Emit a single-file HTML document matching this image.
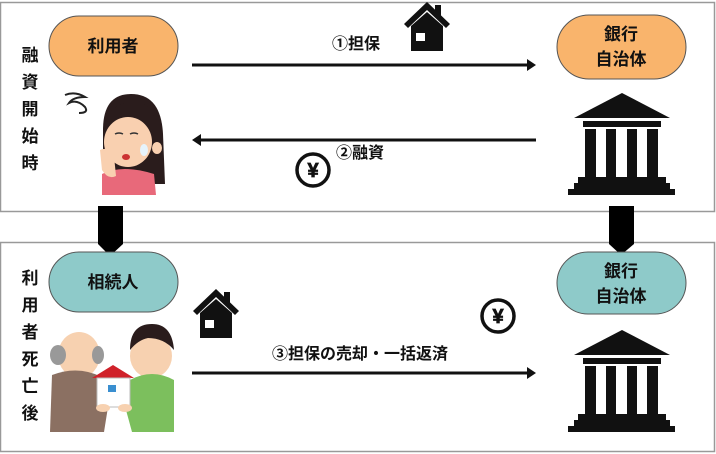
<!DOCTYPE html>
<html><head><meta charset="utf-8">
<style>
html,body{margin:0;padding:0;background:#fff;width:716px;height:454px;overflow:hidden}
svg text{font-family:"Liberation Sans","Noto Sans CJK JP",sans-serif;font-weight:bold;fill:#111}
</style></head><body>
<svg width="716" height="454" viewBox="0 0 716 454" xmlns="http://www.w3.org/2000/svg">
<defs>
<g id="house">
<path d="M0 22 L23 0 L46 22 L42 26 L23 8 L4 26 Z" fill="#111"/>
<rect x="31" y="3" width="6" height="12" fill="#111"/>
<path d="M7 24 L23 10 L39 24 L39 49 L7 49 Z" fill="#111"/>
<rect x="12" y="31" width="9" height="8" fill="#fff"/>
</g>
<g id="bank">
<path d="M48 0 L96 25 L0 25 Z" fill="#111"/>
<rect x="9" y="28" width="78" height="6" fill="#111"/>
<rect x="11" y="36" width="11" height="48" fill="#111"/>
<rect x="32" y="36" width="10" height="48" fill="#111"/>
<rect x="53" y="36" width="10" height="48" fill="#111"/>
<rect x="73" y="36" width="11" height="48" fill="#111"/>
<rect x="4" y="84" width="88" height="6" fill="#111"/>
<rect x="0" y="90" width="96" height="6" fill="#111"/>
<rect x="-6" y="96" width="107" height="6" fill="#111"/>
</g>
<g id="yen">
<circle cx="0" cy="0" r="16" fill="#fff" stroke="#111" stroke-width="3.5"/>
<text x="0" y="7" font-size="20" text-anchor="middle" stroke="#111" stroke-width="0.8">¥</text>
</g>
</defs>

<rect x="0.5" y="2.5" width="714" height="209" fill="#fff" stroke="#999" stroke-width="1.5"/>
<rect x="0.5" y="242.5" width="714" height="209" fill="#fff" stroke="#999" stroke-width="1.5"/>

<path d="M98 206 H123 V244 L110 256 L98 244 Z" fill="#000"/>
<path d="M609 206 H634 V244 L621 255 L609 244 Z" fill="#000"/>

<g font-size="17" text-anchor="middle">
<text x="30" y="61">融</text><text x="30" y="88">資</text><text x="30" y="115">開</text><text x="30" y="142">始</text><text x="30" y="169">時</text>
<text x="30" y="284">利</text><text x="30" y="311">用</text><text x="30" y="338">者</text><text x="30" y="365">死</text><text x="30" y="392">亡</text><text x="30" y="419">後</text>
</g>

<rect x="49" y="16" width="129" height="60" rx="30" fill="#f9b46c" stroke="#555" stroke-width="1"/>
<text x="113" y="52" font-size="17" text-anchor="middle">利用者</text>
<rect x="557" y="15" width="129" height="64" rx="32" fill="#f9b46c" stroke="#555" stroke-width="1"/>
<text x="621" y="40" font-size="17" text-anchor="middle">銀行</text>
<text x="621" y="65" font-size="17" text-anchor="middle">自治体</text>
<rect x="49" y="252" width="129" height="60" rx="30" fill="#8ecac9" stroke="#555" stroke-width="1"/>
<text x="113" y="288" font-size="17" text-anchor="middle">相続人</text>
<rect x="557" y="252" width="129" height="62" rx="31" fill="#8ecac9" stroke="#555" stroke-width="1"/>
<text x="621" y="277" font-size="17" text-anchor="middle">銀行</text>
<text x="621" y="302" font-size="17" text-anchor="middle">自治体</text>

<line x1="192" y1="65" x2="528" y2="65" stroke="#111" stroke-width="3"/>
<path d="M536 65 L527 59 L527 71 Z" fill="#111"/>
<line x1="200" y1="140" x2="536" y2="140" stroke="#111" stroke-width="3"/>
<path d="M192 140 L201 134 L201 146 Z" fill="#111"/>
<line x1="192" y1="373" x2="528" y2="373" stroke="#111" stroke-width="3"/>
<path d="M536 373 L527 367 L527 379 Z" fill="#111"/>

<text x="332" y="49" font-size="16">①担保</text>
<text x="336" y="158" font-size="16">②融資</text>
<text x="272" y="359" font-size="16">③担保の売却・一括返済</text>

<use href="#house" x="404" y="2"/>
<use href="#house" x="193" y="289"/>
<use href="#yen" x="313" y="170"/>
<use href="#yen" x="498" y="316"/>
<use href="#bank" x="574" y="93"/>
<use href="#bank" x="574" y="330"/>

<!-- woman -->
<path d="M65 95 q10 -4 20 2 q-12 0 -16 6 q8 -4 16 4 q4 6 -6 6" fill="none" stroke="#222" stroke-width="2"/>
<path d="M103 130 q0 -36 28 -36 q30 0 32 40 l2 50 l-14 0 l-48 -14 Z" fill="#2a1c1c"/>
<ellipse cx="128" cy="142" rx="24" ry="25" fill="#f9d0b0"/>
<ellipse cx="157" cy="148" rx="5" ry="6" fill="#f9d0b0"/>
<path d="M106 122 q4 -18 26 -20 q18 0 22 14 q-20 -6 -48 6 Z" fill="#2a1c1c"/>
<path d="M102 174 q20 -10 52 0 l2 21 h-54 Z" fill="#e8697a"/>
<path d="M100 150 q8 -4 14 6 l2 20 q-8 4 -14 -6 Z" fill="#f9d0b0"/>
<path d="M115 134 q4 -2 8 0 M130 134 q4 -2 8 0" stroke="#333" stroke-width="1.5" fill="none"/>
<ellipse cx="144" cy="150" rx="4" ry="6" fill="#e6f3fb"/>
<ellipse cx="126" cy="157" rx="4" ry="3" fill="#c33"/>

<!-- old man + son -->
<ellipse cx="79" cy="355" rx="21" ry="23" fill="#f7d1b0"/>
<ellipse cx="58" cy="355" rx="8" ry="10" fill="#999"/>
<ellipse cx="98" cy="355" rx="6" ry="9" fill="#999"/>
<path d="M52 375 q26 -10 50 2 l6 30 l-4 25 h-54 Z" fill="#8b7062"/>
<ellipse cx="151" cy="356" rx="21" ry="22" fill="#f7d1b0"/>
<path d="M130 350 q0 -26 22 -26 q20 0 22 26 q-10 -12 -26 -12 q-10 2 -18 12 Z" fill="#2a1c1c"/>
<path d="M130 380 q22 -12 44 0 l0 52 h-42 l-6 -22 Z" fill="#7cbf5d"/>
<path d="M92 378 L113 365 L134 378 Z" fill="#d0212a"/>
<rect x="97" y="378" width="33" height="29" fill="#fff" stroke="#bbb" stroke-width="1"/>
<rect x="108" y="385" width="8" height="7" fill="#3a8fd0"/>
<ellipse cx="103" cy="408" rx="7" ry="4" fill="#f7d1b0"/>
<ellipse cx="125" cy="408" rx="7" ry="4" fill="#f7d1b0"/>
</svg>
</body></html>
